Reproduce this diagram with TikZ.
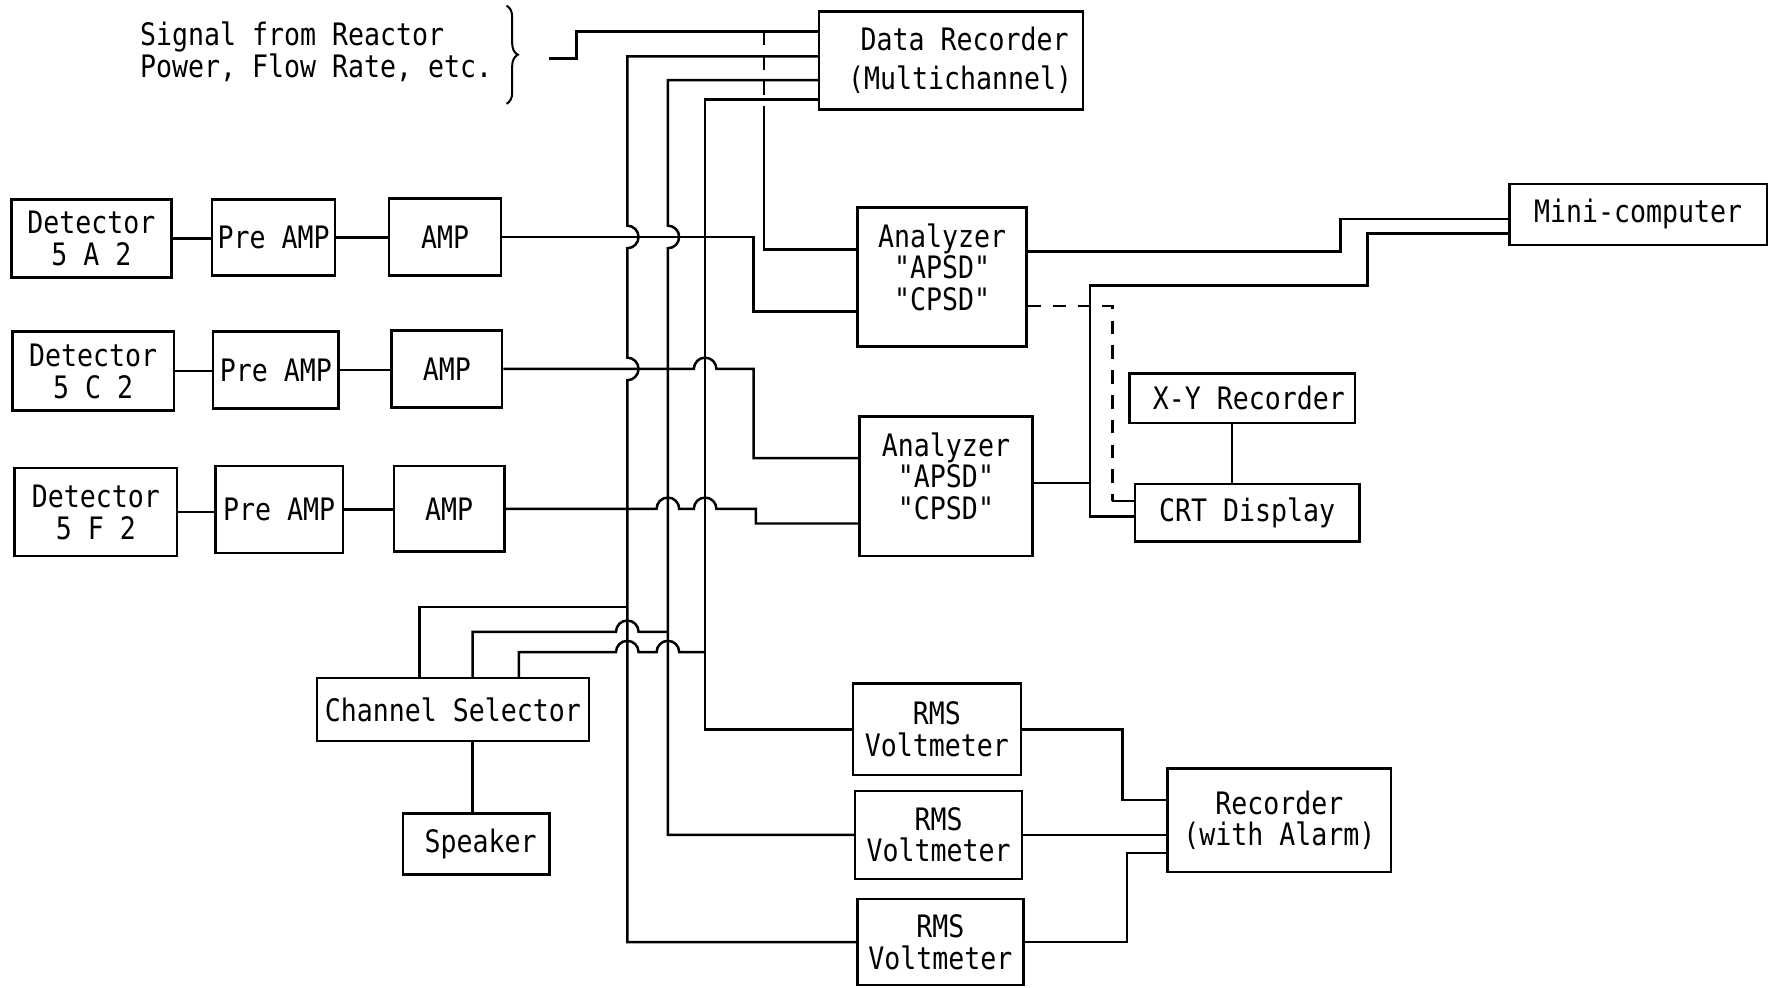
\documentclass[tikz,border=0pt]{standalone}
\usepackage{fontspec}
\setmonofont[FakeStretch=0.86]{DejaVu Sans Mono}
\usetikzlibrary{decorations.pathreplacing}
\newcommand\blk[6]{\node[blk, minimum width={(#4-#2)*0.5pt}, minimum height={(#5-#3)*0.5pt}] (#1) at ({(#2+#4)/2},{(#3+#5)/2}) {#6};}
\begin{document}
\begin{tikzpicture}[x=0.5pt,y=-0.5pt,line width=1.1pt,
  txt/.style={inner sep=0pt,align=center,font=\ttfamily\fontsize{13.7}{14}\selectfont},
  blk/.style={txt,draw,rectangle},
  dsh/.style={dash pattern=on 6pt off 5pt}]
\useasboundingbox (0,0) rectangle (1568,875);
% ---- blocks ----
\blk{dr}{726}{10}{960}{97}{\hspace*{12pt}Data Recorder\\[3pt]\hspace*{8pt}(Multichannel)}
\blk{d1}{10}{177}{152}{246}{Detector\\5 A 2}
\blk{p1}{188}{177}{297}{244}{Pre AMP}
\blk{a1}{345}{176}{444}{244}{AMP}
\blk{d2}{11}{294}{154}{364}{Detector\\5 C 2}
\blk{p2}{189}{294}{300}{362}{Pre AMP}
\blk{a2}{347}{293}{445}{361}{AMP}
\blk{d3}{13}{415}{157}{493}{Detector\\5 F 2}
\blk{p3}{191}{413}{304}{490}{Pre AMP}
\blk{a3}{349}{413}{447}{489}{AMP}
\blk{an1}{760}{184}{910}{307}{Analyzer\\"APSD"\\"CPSD"\\[-5pt]\mbox{}}
\blk{an2}{762}{369}{915}{493}{Analyzer\\"APSD"\\"CPSD"\\[-5pt]\mbox{}}
\blk{mc}{1338}{163}{1566}{217}{Mini-computer}
\blk{xy}{1001}{331}{1201}{375}{\hspace*{6pt}X-Y Recorder}
\blk{crt}{1006}{429}{1205}{480}{CRT Display}
\blk{cs}{281}{601}{522}{657}{Channel Selector}
\blk{sp}{357}{721}{487}{775}{\hspace*{4pt}Speaker}
\blk{rms1}{756}{606}{905}{687}{RMS\\Voltmeter}
\blk{rms2}{758}{701}{906}{779}{RMS\\Voltmeter}
\blk{rms3}{760}{797}{907}{873}{RMS\\Voltmeter}
\blk{rec}{1035}{681}{1233}{773}{Recorder\\(with Alarm)}
% ---- signal text and brace ----
\node[txt,align=left,anchor=west] (sigtxt) at (123,46) {Signal from Reactor\\[0.5pt]Power, Flow Rate, etc.};
\draw[line width=0.9pt,decorate,decoration={brace,amplitude=5pt}] (449,5) -- (449,92);
\coordinate (sig) at (487,52);
\draw (sig) -- (511,52) |- (dr.west |- 0,28);
\coordinate (tap) at (677,28);
\draw[dsh] (tap) -- (677,97);
\draw (677,97) |- (an1.west |- 0,221);
% ---- detector chains ----
\draw (d1.east) -- (d1.east -| p1.west);
\draw (p1.east) -- (p1.east -| a1.west);
\draw (d2.east) -- (d2.east -| p2.west);
\draw (p2.east) -- (p2.east -| a2.west);
\draw (d3.east) -- (d3.east -| p3.west);
\draw (p3.east) -- (p3.east -| a3.west);
% ---- AMP outputs ----
\draw (a1.east) -- (668,210) |- (an1.west |- 0,276);
\draw (a2.east) -- (615,327) arc[start angle=180,end angle=0,radius=5pt] -- (668,327) |- (an2.west |- 0,406);
\draw (a3.east) -- (582,451) arc[start angle=180,end angle=0,radius=5pt] -- (615,451) arc[start angle=180,end angle=0,radius=5pt] -- (670,451) |- (an2.west |- 0,464);
% ---- data recorder buses ----
\draw (dr.west |- 0,50) -| (556,200) arc[start angle=90,end angle=-90,radius=5pt] -- (556,317) arc[start angle=90,end angle=-90,radius=5pt] |- (rms3.west);
\draw (dr.west |- 0,71) -| (592,200) arc[start angle=90,end angle=-90,radius=5pt] |- (rms2.west);
\draw (dr.west |- 0,88) -| (rms1.west -| 625,0) -- (rms1.west);
% ---- channel selector ----
\draw (cs.north -| 372,0) |- (556,538);
\draw (cs.north -| 419,0) |- (546,560) arc[start angle=180,end angle=0,radius=5pt] -- (592,560);
\draw (cs.north -| 460,0) |- (546,578) arc[start angle=180,end angle=0,radius=5pt] -- (582,578) arc[start angle=180,end angle=0,radius=5pt] -- (625,578);
\draw (cs.south -| 419,0) -- (sp.north -| 419,0);
% ---- analyzers to computer / display ----
\draw (an1.east |- 0,223) -| (1188,194) -- (mc.west |- 0,194);
\draw (mc.west |- 0,207) -| (1212,253) -| (966,458) -- (crt.west |- 0,458);
\draw (an2.east |- 0,428) -- (966,428);
\draw[dsh] (an1.east |- 0,271) -| (986,444);
\draw (986,444) -- (crt.west |- 0,444);
\draw (xy.south -| 1092,0) -- (crt.north -| 1092,0);
% ---- RMS to recorder ----
\draw (rms1.east) -| (995,709) -- (rec.west |- 0,709);
\draw (rms2.east) -- (rms2.east -| rec.west);
\draw (rms3.east) -| (999,756) -- (rec.west |- 0,756);
\end{tikzpicture}
\end{document}
